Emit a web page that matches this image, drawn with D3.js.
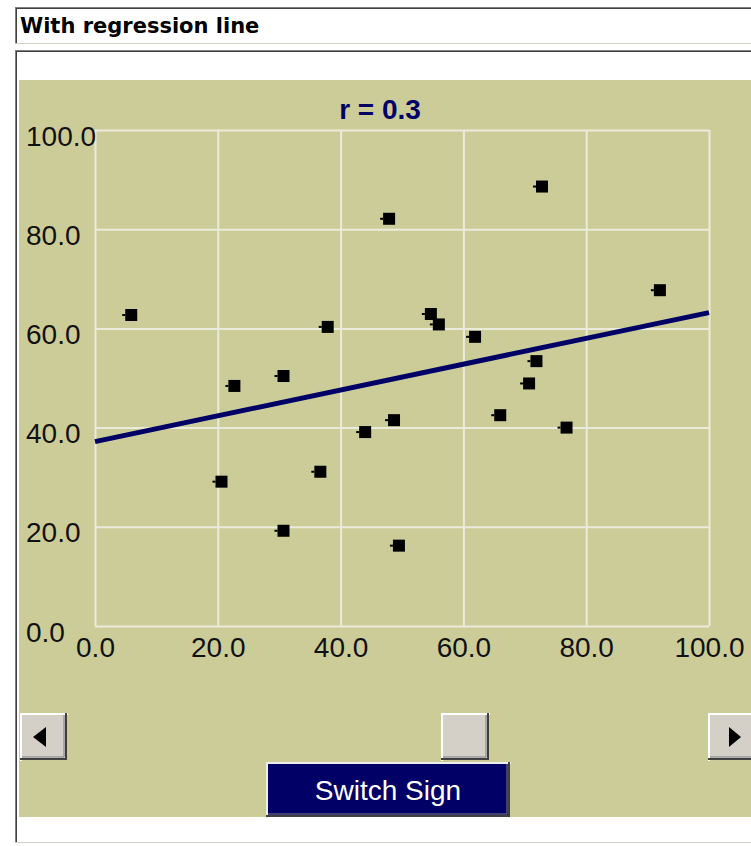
<!DOCTYPE html>
<html>
<head>
<meta charset="utf-8">
<script src="https://cdn.jsdelivr.net/npm/d3@7"></script>
<style>
  html, body { margin: 0; padding: 0; background: #ffffff; }
  svg { display: block; }
</style>
</head>
<body>
<div id="chart"></div>
<script>
// ---- Data ----
const panelTitle = "With regression line";
const chartTitle = "r = 0.3";
const buttonLabel = "Switch Sign";
const xValues = [5.9, 22.7, 20.6, 30.7, 30.7, 37.9, 36.7, 44.0, 47.9, 48.7, 49.5, 54.7, 56.0, 61.9, 66.0, 70.7, 71.9, 72.8, 76.8, 92.0];
const yValues = [62.7, 48.4, 29.1, 50.4, 19.2, 60.3, 31.1, 39.1, 82.1, 41.5, 16.2, 62.9, 60.8, 58.3, 42.5, 48.9, 53.4, 88.6, 40.0, 67.7];
const xTickValues = [0, 20, 40, 60, 80, 100];
const xTickLabels = ["0.0", "20.0", "40.0", "60.0", "80.0", "100.0"];
const yTickValues = [0, 20, 40, 60, 80, 100];
const yTickLabels = ["0.0", "20.0", "40.0", "60.0", "80.0", "100.0"];

const W = 751, H = 846;
const svg = d3.select("#chart").append("svg").attr("width", W).attr("height", H);

// ---- Frame: title box ----
svg.append("rect").attr("x", 15).attr("y", 7).attr("width", 760).attr("height", 37).attr("fill", "#ffffff");
svg.append("line").attr("x1", 15).attr("x2", 760).attr("y1", 7.5).attr("y2", 7.5).attr("stroke", "#808080");
svg.append("line").attr("x1", 15).attr("x2", 760).attr("y1", 8.5).attr("y2", 8.5).attr("stroke", "#404040");
svg.append("line").attr("x1", 15.5).attr("x2", 15.5).attr("y1", 7).attr("y2", 44).attr("stroke", "#808080");
svg.append("line").attr("x1", 16.5).attr("x2", 16.5).attr("y1", 8).attr("y2", 44).attr("stroke", "#404040");
svg.append("line").attr("x1", 15).attr("x2", 760).attr("y1", 43.5).attr("y2", 43.5).attr("stroke", "#d4d0c8");
svg.append("text").attr("x", 20).attr("y", 33)
  .attr("font-family", "'DejaVu Sans', Verdana, sans-serif").attr("font-weight", "bold")
  .attr("font-size", 21).attr("fill", "#000").text(panelTitle);

// ---- Frame: chart panel ----
svg.append("rect").attr("x", 15).attr("y", 50).attr("width", 760).attr("height", 793).attr("fill", "#ffffff");
svg.append("line").attr("x1", 15).attr("x2", 760).attr("y1", 50.5).attr("y2", 50.5).attr("stroke", "#808080");
svg.append("line").attr("x1", 15).attr("x2", 760).attr("y1", 51.5).attr("y2", 51.5).attr("stroke", "#404040");
svg.append("line").attr("x1", 15.5).attr("x2", 15.5).attr("y1", 50).attr("y2", 843).attr("stroke", "#808080");
svg.append("line").attr("x1", 16.5).attr("x2", 16.5).attr("y1", 51).attr("y2", 843).attr("stroke", "#404040");
svg.append("line").attr("x1", 15).attr("x2", 760).attr("y1", 842.5).attr("y2", 842.5).attr("stroke", "#d4d0c8");

// olive area
svg.append("rect").attr("x", 19).attr("y", 80).attr("width", 740).attr("height", 737).attr("fill", "#cccc99");

// ---- Scales ----
const x = d3.scaleLinear().domain([0, 100]).range([95, 709]);
const y = d3.scaleLinear().domain([0, 100]).range([626, 130]);

const tickFont = "'Liberation Sans', Arial, sans-serif";
const gridColor = "#ebebdc";

// x axis with gridlines
const xAxis = d3.axisBottom(x)
  .tickValues(xTickValues)
  .tickFormat((d, i) => xTickLabels[i])
  .tickSize(-(y(0) - y(100)))
  .tickPadding(11);
const gx = svg.append("g").attr("transform", `translate(0,${y(0)})`).call(xAxis);
gx.select(".domain").remove();
gx.selectAll(".tick line").attr("stroke", gridColor).attr("stroke-width", 2);
gx.selectAll(".tick text").attr("font-family", tickFont).attr("font-size", 28).attr("fill", "#111");

// y axis with gridlines
const yAxis = d3.axisLeft(y)
  .tickValues(yTickValues)
  .tickFormat((d, i) => yTickLabels[i])
  .tickSize(-(x(100) - x(0)));
const gy = svg.append("g").attr("transform", `translate(${x(0)},0)`).call(yAxis);
gy.select(".domain").remove();
gy.selectAll(".tick line").attr("stroke", gridColor).attr("stroke-width", 2);
gy.selectAll(".tick text")
  .attr("font-family", tickFont).attr("font-size", 28).attr("fill", "#111")
  .attr("text-anchor", "start").attr("x", 26 - x(0)).attr("dy", null).attr("y", 15);

// ---- Chart title ----
svg.append("text").attr("x", 380).attr("y", 119).attr("text-anchor", "middle")
  .attr("font-family", tickFont).attr("font-weight", "bold").attr("font-size", 28)
  .attr("fill", "#000066").text(chartTitle);

// ---- Regression line (least squares from data) ----
const mx = d3.mean(xValues), my = d3.mean(yValues);
const sxy = d3.sum(xValues.map((v, i) => (v - mx) * (yValues[i] - my)));
const sxx = d3.sum(xValues.map(v => (v - mx) * (v - mx)));
const slope = sxy / sxx, intercept = my - slope * mx;
const regPts = [0, 100].map(v => [v, intercept + slope * v]);
svg.append("path")
  .attr("d", d3.line().x(d => x(d[0])).y(d => y(d[1]))(regPts))
  .attr("stroke", "#000066").attr("stroke-width", 5).attr("fill", "none");

// ---- Points ----
const pts = xValues.map((v, i) => ({ x: v, y: yValues[i] }));
const gp = svg.append("g");
gp.selectAll("rect.pt").data(pts).join("rect").attr("class", "pt")
  .attr("x", d => x(d.x) - 6).attr("y", d => y(d.y) - 6)
  .attr("width", 12).attr("height", 12).attr("fill", "#000");
gp.selectAll("rect.nib").data(pts).join("rect").attr("class", "nib")
  .attr("x", d => x(d.x) - 9).attr("y", d => y(d.y) - 1)
  .attr("width", 3).attr("height", 2).attr("fill", "#000");

// ---- Scrollbar ----
function bevel(g, bx, by, bw, bh, fill, light, dark) {
  g.append("rect").attr("x", bx).attr("y", by).attr("width", bw).attr("height", bh).attr("fill", fill);
  g.append("path").attr("d", `M${bx},${by + bh} V${by} H${bx + bw}`).attr("stroke", light).attr("stroke-width", 2).attr("fill", "none")
    .attr("transform", "translate(1,1)");
  g.append("path").attr("d", `M${bx},${by + bh - 1} H${bx + bw - 1} V${by}`).attr("stroke", dark).attr("stroke-width", 2).attr("fill", "none");
  g.append("path").attr("d", `M${bx + 2},${by + bh - 3} H${bx + bw - 3} V${by + 2}`).attr("stroke", "#808080").attr("stroke-width", 1).attr("fill", "none");
}
const sb = svg.append("g");
bevel(sb, 20, 713, 47, 47, "#d4d0c8", "#ffffff", "#404040");
bevel(sb, 441, 713, 48, 47, "#d4d0c8", "#ffffff", "#404040");
bevel(sb, 708, 713, 47, 47, "#d4d0c8", "#ffffff", "#404040");
sb.append("path").attr("d", "M33,737 L46,727 L46,747 Z").attr("fill", "#000");
sb.append("path").attr("d", "M741,737 L729,727 L729,747 Z").attr("fill", "#000");

// ---- Button ----
const bt = svg.append("g");
bevel(bt, 266, 762, 244, 55, "#000066", "#eeeeee", "#404040");
bt.append("text").attr("x", 388).attr("y", 800).attr("text-anchor", "middle")
  .attr("font-family", tickFont).attr("font-size", 28).attr("fill", "#ffffff").text(buttonLabel);
</script>
</body>
</html>
